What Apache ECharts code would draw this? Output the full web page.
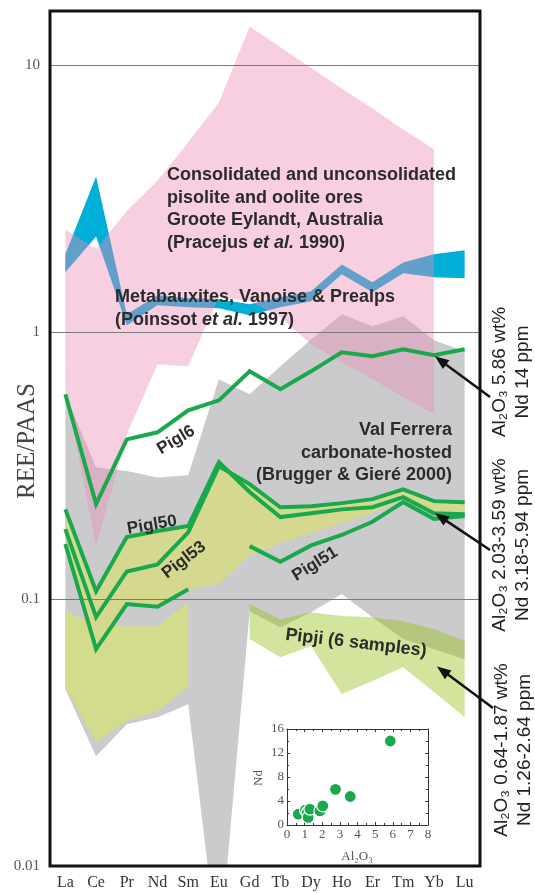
<!DOCTYPE html>
<html>
<head>
<meta charset="utf-8">
<script src="https://cdn.jsdelivr.net/npm/echarts@6/dist/echarts.min.js"></script>
<style>
  html, body { margin: 0; padding: 0; background: #fff; }
  #chart { width: 535px; height: 893px; }
</style>
</head>
<body>
<div id="chart"></div>
<script>
// ---- Data: REE normalised to PAAS ----
const elements = ['La', 'Ce', 'Pr', 'Nd', 'Sm', 'Eu', 'Gd', 'Tb', 'Dy', 'Ho', 'Er', 'Tm', 'Yb', 'Lu'];
const yTickLabels = ['0.01', '0.1', '1', '10'];

// Groote Eylandt pisolite/oolite ores envelope
const grooteUpper = [2.43, 2.05, 2.85, 3.7, 5.15, 7.27, 14.0, 11.7, 9.8, 8.2, 6.9, 5.76, 4.85, null];
const grooteLower = [0.612, 0.158, 0.415, 0.759, 0.746, 1.364, 1.31, 1.138, 0.902, 0.772, 0.667, 0.571, 0.493, null];

// Metabauxites, Vanoise & Prealps envelope
const metaUpper = [1.96, 3.84, 1.168, 1.376, 1.341, 1.329, 1.273, 1.352, 1.424, 1.797, 1.539, 1.828, 1.96, 2.028];
const metaLower = [1.678, 2.288, 1.062, 1.262, 1.241, 1.23, 1.158, 1.241, 1.306, 1.649, 1.412, 1.663, 1.607, 1.593];

// Val Ferrera carbonate-hosted envelope
const valFerreraUpper = [0.586, 0.312, 0.302, 0.286, 0.291, 0.667, 0.586, 0.746, 0.94, 1.168, 1.053, 1.148, 0.933, 0.849];
const valFerreraLower = [0.046, 0.0258, 0.034, 0.0361, 0.0404, 0.0045, 0.090, 0.0785, 0.0894, 0.1045, 0.0856, 0.0709, 0.065, 0.0596];

// Pigl envelopes
const piglBandUpper = [0.217, 0.107, 0.171, 0.18, 0.188, 0.326, 0.27, 0.221, 0.223, 0.229, 0.237, 0.258, 0.233, 0.231];
const piglBandLower = [0.161, 0.065, 0.096, 0.094, 0.109, 0.114, 0.146, 0.162, 0.177, 0.193, 0.21, 0.238, 0.212, 0.21];
const piglLowUpper = [0.090, 0.080, 0.079, 0.079, 0.0973, null, null, null, null, null, null, null, null, null];
const piglLowLower = [0.047, 0.029, 0.035, 0.038, 0.047, null, null, null, null, null, null, null, null, null];

// Pipji (6 samples) envelope
const pipjiUpper = [null, null, null, null, null, null, 0.0958, 0.0841, 0.0894, 0.0864, 0.0856, 0.0827, 0.0773, 0.0697];
const pipjiLower = [null, null, null, null, null, null, 0.0709, 0.0606, 0.0667, 0.0441, 0.0493, 0.0556, 0.0449, 0.0361];

// Individual samples
const pigl6  = [0.586, 0.227, 0.397, 0.422, 0.51, 0.556, 0.714, 0.612, 0.714, 0.841, 0.813, 0.864, 0.82, 0.864];
const pigl50 = [0.217, 0.107, 0.171, 0.18, 0.188, 0.326, 0.252, 0.203, 0.21, 0.217, 0.221, 0.241, 0.21, 0.208];
const pigl53 = [0.183, 0.0856, 0.127, 0.135, 0.178, 0.315, 0.27, 0.221, 0.223, 0.229, 0.237, 0.258, 0.233, 0.231];
const piglShort = [0.161, 0.065, 0.0958, 0.0936, 0.109, null, null, null, null, null, null, null, null, null];
const pigl51 = [null, null, null, null, null, null, 0.158, 0.138, 0.159, 0.174, 0.195, 0.231, 0.20, 0.205];

// Inset: Nd (ppm) versus Al2O3 (wt%)
const alumina = [0.64, 1.05, 1.15, 1.2, 1.3, 1.87, 2.03, 2.75, 3.59, 5.86];
const ndPpm   = [1.8, 2.5, 2.1, 1.26, 2.64, 2.35, 3.18, 5.94, 4.75, 14.0];
const insetXTicks = [0, 8, 1];
const insetYTicks = [0, 16, 4];

// ---- Styles ----
const SERIF = '"Liberation Serif","DejaVu Serif",serif';
const SANS = '"Liberation Sans",Arial,"DejaVu Sans",sans-serif';
const GREEN = '#1aa84c';
const TEXT = '#2b2b2b';

const chart = echarts.init(document.getElementById('chart'), null, { renderer: 'canvas' });

// Filled envelope between two profiles, drawn through the axes
function band(name, upper, lower, fill, z) {
  return {
    type: 'custom',
    name: name,
    z: z,
    clip: true,
    silent: true,
    xAxisIndex: 0,
    yAxisIndex: 0,
    data: [[0, 1]],
    renderItem: function (params, api) {
      const pts = [];
      upper.forEach(function (v, i) { if (v != null) pts.push(api.coord([i, v])); });
      for (let i = lower.length - 1; i >= 0; i--) {
        if (lower[i] != null) pts.push(api.coord([i, lower[i]]));
      }
      return { type: 'polygon', shape: { points: pts }, style: { fill: fill } };
    }
  };
}

function sampleLine(name, data) {
  return {
    type: 'line',
    name: name,
    data: data,
    z: 8,
    symbol: 'none',
    silent: true,
    connectNulls: false,
    lineStyle: { color: GREEN, width: 4, join: 'miter', cap: 'butt' }
  };
}

const insetAxis = {
  gridIndex: 1,
  axisLine: { show: true, onZero: false, lineStyle: { color: '#333', width: 1 } },
  axisTick: { show: true, inside: true, length: 3, lineStyle: { color: '#333' } },
  minorTick: { show: true, splitNumber: 2, length: 2, lineStyle: { color: '#333' } },
  splitLine: { show: false },
  axisLabel: { fontFamily: SERIF, fontSize: 13, color: '#555', margin: 3 }
};

chart.setOption({
  animation: false,
  grid: [
    { left: 50, right: 55, top: 11, bottom: 27 },
    { left: 287, top: 729, width: 141, height: 96 }
  ],
  xAxis: [
    {
      type: 'category', data: elements, gridIndex: 0, boundaryGap: true,
      axisLine: { show: false }, axisTick: { show: false }, splitLine: { show: false },
      axisLabel: { interval: 0, fontFamily: SERIF, fontSize: 16, color: '#333', margin: 9 }
    },
    Object.assign({}, insetAxis, { type: 'value', position: 'bottom', min: insetXTicks[0], max: insetXTicks[1], interval: insetXTicks[2] }),
    Object.assign({}, insetAxis, { type: 'value', position: 'top', min: insetXTicks[0], max: insetXTicks[1], interval: insetXTicks[2], axisLabel: { show: false } })
  ],
  yAxis: [
    {
      type: 'log', logBase: 10, min: 0.01, max: 16, gridIndex: 0, z: 6,
      axisLine: { show: false }, axisTick: { show: false },
      splitLine: { show: true, lineStyle: { color: '#7a7a7a', width: 1 } },
      axisLabel: {
        fontFamily: SERIF, fontSize: 15, color: '#555', margin: 10,
        formatter: function (v) {
          const l = Math.log10(v);
          const r = Math.round(l);
          if (Math.abs(l - r) > 1e-6) return '';
          return yTickLabels[r + 2] || '';
        }
      }
    },
    Object.assign({}, insetAxis, { type: 'value', position: 'left', min: insetYTicks[0], max: insetYTicks[1], interval: insetYTicks[2] }),
    Object.assign({}, insetAxis, { type: 'value', position: 'right', min: insetYTicks[0], max: insetYTicks[1], interval: insetYTicks[2], axisLabel: { show: false } })
  ],
  series: [
    band('Val Ferrera', valFerreraUpper, valFerreraLower, '#cbcbcd', 1),
    band('Pigl low', piglLowUpper, piglLowLower, '#d2dc8c', 2),
    band('Pigl', piglBandUpper, piglBandLower, '#d5d98f', 2),
    band('Pipji', pipjiUpper, pipjiLower, 'rgba(150,190,20,0.42)', 3),
    band('Metabauxites', metaUpper, metaLower, '#00afd6', 4),
    band('Groote Eylandt', grooteUpper, grooteLower, 'rgba(236,140,183,0.42)', 5),
    sampleLine('Pigl6', pigl6),
    sampleLine('Pigl53', pigl53),
    sampleLine('Pigl50', pigl50),
    sampleLine('Pigl short', piglShort),
    sampleLine('Pigl51', pigl51),
    {
      type: 'scatter', name: 'Nd vs Al2O3', xAxisIndex: 1, yAxisIndex: 1, z: 10, silent: true,
      data: alumina.map(function (a, i) { return [a, ndPpm[i]]; }),
      symbolSize: 12,
      itemStyle: { color: GREEN, borderColor: '#fff', borderWidth: 1.2, opacity: 1 }
    }
  ]
});

// ---- Annotations ----
function txt(x, y, text, o) {
  o = o || {};
  return {
    type: 'text', x: x, y: y, rotation: o.rotation || 0, z: 30, silent: true,
    style: {
      text: text,
      fill: o.fill || TEXT,
      fontFamily: o.fontFamily || SANS,
      fontSize: o.fontSize || 18,
      fontWeight: o.fontWeight || 'bold',
      align: o.align || 'left',
      verticalAlign: o.verticalAlign || 'top',
      lineHeight: o.lineHeight || 22.5,
      rich: o.rich
    }
  };
}

const italicRich = {
  it: { fontStyle: 'italic', fontWeight: 'bold', fontFamily: SANS, fontSize: 18, fill: TEXT, lineHeight: 22.5 }
};

function arrow(tail, tip) {
  const dx = tip[0] - tail[0], dy = tip[1] - tail[1];
  const len = Math.sqrt(dx * dx + dy * dy);
  const ux = dx / len, uy = dy / len;
  const hl = 14, hw = 5.5;
  const bx = tip[0] - ux * hl, by = tip[1] - uy * hl;
  return [
    { type: 'line', z: 30, silent: true, shape: { x1: tail[0], y1: tail[1], x2: bx + ux * 2, y2: by + uy * 2 },
      style: { stroke: '#111', lineWidth: 2.5 } },
    { type: 'polygon', z: 30, silent: true,
      shape: { points: [tip, [bx - uy * hw, by + ux * hw], [bx + uy * hw, by - ux * hw]] },
      style: { fill: '#111' } }
  ];
}

const px = function (i, v) { return chart.convertToPixel({ xAxisIndex: 0, yAxisIndex: 0 }, [i, v]); };
const tip1 = px(12, pigl6[12]);
const tip2 = px(12, pigl50[12]);
const tip3 = px(12, Math.sqrt(pipjiUpper[12] * pipjiLower[12]));

const graphics = [
  // plot frame
  { type: 'rect', z: 40, silent: true, shape: { x: 50, y: 11, width: 430, height: 855 },
    style: { fill: 'none', stroke: '#111', lineWidth: 3 } },
  // y-axis title
  txt(27, 441, 'REE/PAAS', { rotation: Math.PI / 2, fontFamily: SERIF, fontSize: 25, fontWeight: 'normal', fill: '#444', align: 'center', verticalAlign: 'middle' }),
  // envelope captions
  txt(167, 164, 'Consolidated and unconsolidated\npisolite and oolite ores\nGroote Eylandt, Australia\n(Pracejus {it|et al.} 1990)', { rich: italicRich }),
  txt(115, 286, 'Metabauxites, Vanoise & Prealps\n(Poinssot {it|et al.} 1997)', { rich: italicRich, lineHeight: 23 }),
  txt(452, 419, 'Val Ferrera\ncarbonate-hosted\n(Brugger & Gieré 2000)', { align: 'right' }),
  txt(356, 643, 'Pipji (6 samples)', { rotation: -0.117, align: 'center', verticalAlign: 'middle' }),
  // sample labels
  txt(176, 440, 'Pigl6', { rotation: 0.54, fontSize: 17, align: 'center', verticalAlign: 'middle' }),
  txt(152, 525, 'Pigl50', { rotation: 0.17, fontSize: 17, align: 'center', verticalAlign: 'middle' }),
  txt(184, 560, 'Pigl53', { rotation: 0.66, fontSize: 17, align: 'center', verticalAlign: 'middle' }),
  txt(315, 564, 'Pigl51', { rotation: 0.56, fontSize: 17, align: 'center', verticalAlign: 'middle' }),
  // composition notes on the right
  txt(511, 372, 'Al₂O₃ 5.86 wt%\nNd 14 ppm', { rotation: Math.PI / 2, fontSize: 19, fontWeight: 'normal', fill: '#222', align: 'center', verticalAlign: 'middle', lineHeight: 23 }),
  txt(511, 545, 'Al₂O₃ 2.03-3.59 wt%\nNd 3.18-5.94 ppm', { rotation: Math.PI / 2, fontSize: 19, fontWeight: 'normal', fill: '#222', align: 'center', verticalAlign: 'middle', lineHeight: 23 }),
  txt(513, 750, 'Al₂O₃ 0.64-1.87 wt%\nNd 1.26-2.64 ppm', { rotation: Math.PI / 2, fontSize: 19, fontWeight: 'normal', fill: '#222', align: 'center', verticalAlign: 'middle', lineHeight: 23 }),
  // inset axis names
  txt(259, 778, 'Nd', { rotation: Math.PI / 2, fontFamily: SERIF, fontSize: 13, fontWeight: 'normal', fill: '#555', align: 'center', verticalAlign: 'middle' }),
  txt(357, 857, 'Al₂O₃', { fontFamily: SERIF, fontSize: 13, fontWeight: 'normal', fill: '#555', align: 'center', verticalAlign: 'middle' })
].concat(
  arrow([490, 397], [tip1[0] + 1, tip1[1] + 1]),
  arrow([490, 550], [tip2[0] + 1, tip2[1]]),
  arrow([493, 708], [tip3[0] + 3, tip3[1] + 6])
);

chart.setOption({ graphic: graphics });
</script>
</body>
</html>
